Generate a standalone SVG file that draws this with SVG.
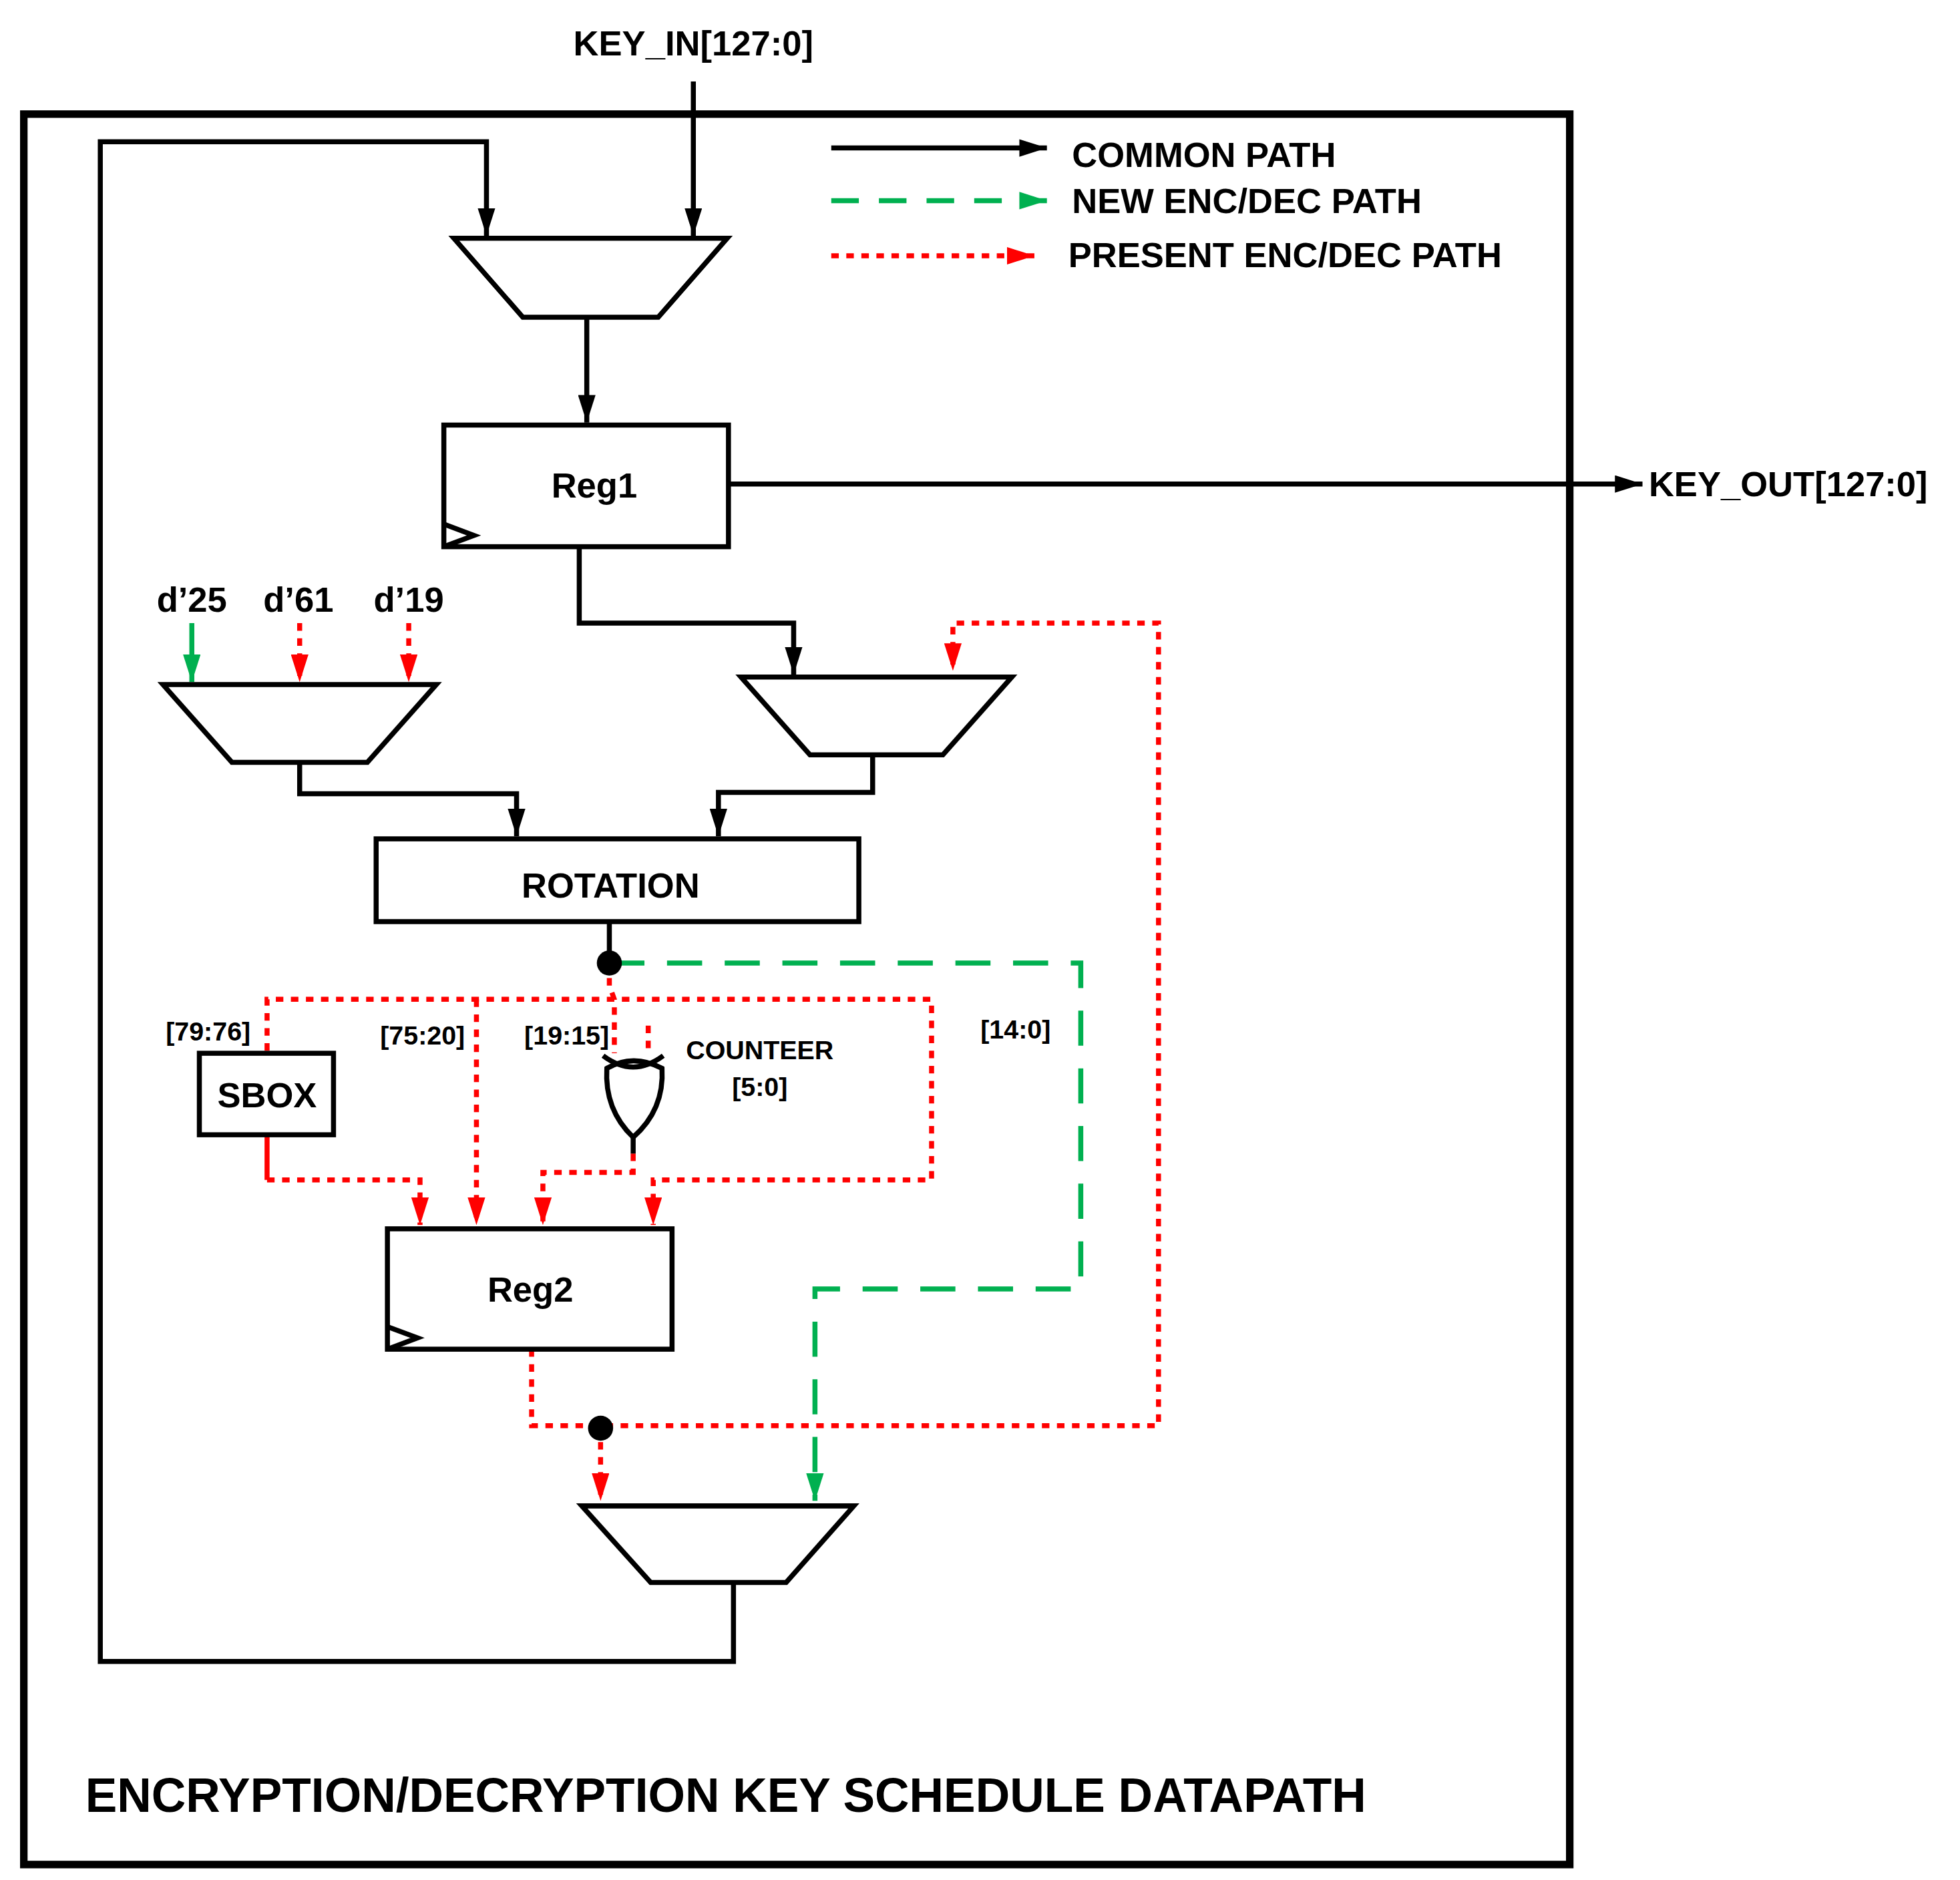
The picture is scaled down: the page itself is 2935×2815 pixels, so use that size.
<svg xmlns="http://www.w3.org/2000/svg" width="2935" height="2815" viewBox="0 0 2935 2815">
<style>
.k{fill:none;stroke:#000;stroke-width:4;stroke-linejoin:miter}
.bx{fill:#fff;stroke:#000;stroke-width:4}
.g{fill:none;stroke:#00b050;stroke-width:4;stroke-dasharray:28,18}
.r{fill:none;stroke:#ff0000;stroke-width:4;stroke-dasharray:6,6}
.rs{fill:none;stroke:#ff0000;stroke-width:4}
.gs{fill:none;stroke:#00b050;stroke-width:4}
text{font-family:"Liberation Sans",Arial,sans-serif;font-weight:bold;fill:#000}
.t{font-size:28px}
.s{font-size:21px}
</style>
<defs>
<marker id="ak" markerWidth="22" markerHeight="14" refX="22" refY="7" orient="auto" markerUnits="userSpaceOnUse"><path d="M0,0L22,7L0,14Z" fill="#000"/></marker>
<marker id="ag" markerWidth="22" markerHeight="14" refX="22" refY="7" orient="auto" markerUnits="userSpaceOnUse"><path d="M0,0L22,7L0,14Z" fill="#00b050"/></marker>
<marker id="ar" markerWidth="22" markerHeight="14" refX="22" refY="7" orient="auto" markerUnits="userSpaceOnUse"><path d="M0,0L22,7L0,14Z" fill="#ff0000"/></marker>
</defs>
<rect width="2935" height="2815" fill="#fff"/>
<g transform="scale(1.8775)">
<rect x="19" y="91" width="1233" height="1396" fill="none" stroke="#000" stroke-width="6"/>
<g id="connectors">
<path class="k" d="M553,65V188" marker-end="url(#ak)"/>
<path class="k" d="M585,1262V1325H80V113H388V188" marker-end="url(#ak)"/>
<path class="k" d="M468,253V337" marker-end="url(#ak)"/>
<path class="k" d="M581,386H1310" marker-end="url(#ak)"/>
<path class="k" d="M462,436V497H633V538" marker-end="url(#ak)"/>
<path class="k" d="M696,602V632H573V667" marker-end="url(#ak)"/>
<path class="k" d="M239,608V633H412V667" marker-end="url(#ak)"/>
<path class="gs" d="M153,497V544" marker-end="url(#ag)"/>
<path class="r" d="M239,497V544" marker-end="url(#ar)"/>
<path class="r" d="M326,497V544" marker-end="url(#ar)"/>
<path class="k" d="M486,735V768"/>
<path class="g" d="M486,768H862V1028H650V1197" marker-end="url(#ag)"/>
<path class="r" d="M486,768V786L490,797V840"/>
<path class="r" d="M213,838V797H743V941H521V977" marker-end="url(#ar)"/>
<path class="r" d="M380,797V977" marker-end="url(#ar)"/>
<path class="r" d="M517,818V840"/>
<path class="rs" d="M213,905V941"/>
<path class="r" d="M213,941H335V977" marker-end="url(#ar)"/>
<path class="r" d="M505,920V935H433V977" marker-end="url(#ar)"/>
<path class="k" d="M505,905V920"/>
<path class="r" d="M424,1076V1137H924V497H760V535" marker-end="url(#ar)"/>
<path class="r" d="M479,1138V1197" marker-end="url(#ar)"/>
<circle cx="486" cy="768" r="10" fill="#000"/>
<circle cx="479" cy="1139" r="10" fill="#000"/>
<path class="k" d="M663,118H835" marker-end="url(#ak)"/>
<path class="g" d="M663,160H835" marker-end="url(#ag)" style="stroke-dasharray:22,16"/>
<path class="r" d="M663,204H825" marker-end="url(#ar)"/>
</g>
<g id="mux1"><path class="bx" d="M362,190H580L525,253H417Z"/></g>
<g id="reg1"><rect class="bx" x="354" y="339" width="227" height="97"/><path class="k" d="M354,418L378,427L354,436"/><text class="t" x="474" y="397" text-anchor="middle">Reg1</text></g>
<g id="mux2"><path class="bx" d="M130,546H348L293,608H185Z"/></g>
<g id="mux3"><path class="bx" d="M591,540H807L752,602H646Z"/></g>
<g id="rotation"><rect class="bx" x="300" y="669" width="385" height="66"/><text class="t" x="487" y="716" text-anchor="middle">ROTATION</text></g>
<g id="sbox"><rect class="bx" x="159" y="840" width="107" height="65"/><text class="t" x="213" y="883" text-anchor="middle">SBOX</text></g>
<g id="xor"><path class="bx" d="M484,852Q505,840 528,852Q530,885 505,907Q482,885 484,852Z"/><path class="k" d="M481,842Q505,860 529,842"/></g>
<g id="reg2"><rect class="bx" x="309" y="980" width="227" height="96"/><path class="k" d="M309,1058L333,1067L309,1076"/><text class="t" x="423" y="1038" text-anchor="middle">Reg2</text></g>
<g id="mux4"><path class="bx" d="M464,1201H681L627,1262H519Z"/></g>
<g id="labels">
<text class="t" x="553" y="44" text-anchor="middle">KEY_IN[127:0]</text>
<text class="t" x="1315" y="396">KEY_OUT[127:0]</text>
<text class="t" x="153" y="488" text-anchor="middle">d’25</text>
<text class="t" x="238" y="488" text-anchor="middle">d’61</text>
<text class="t" x="326" y="488" text-anchor="middle">d’19</text>
<text class="t" x="855" y="133">COMMON PATH</text>
<text class="t" x="855" y="170">NEW ENC/DEC PATH</text>
<text class="t" x="852" y="213">PRESENT ENC/DEC PATH</text>
<text class="s" x="166" y="830" text-anchor="middle">[79:76]</text>
<text class="s" x="337" y="833" text-anchor="middle">[75:20]</text>
<text class="s" x="452" y="833" text-anchor="middle">[19:15]</text>
<text class="s" x="606" y="845" text-anchor="middle">COUNTEER</text>
<text class="s" x="606" y="874" text-anchor="middle">[5:0]</text>
<text class="s" x="810" y="828" text-anchor="middle">[14:0]</text>
<text x="68" y="1445" style="font-size:38px">ENCRYPTION/DECRYPTION KEY SCHEDULE DATAPATH</text>
</g>
</g>
</svg>
